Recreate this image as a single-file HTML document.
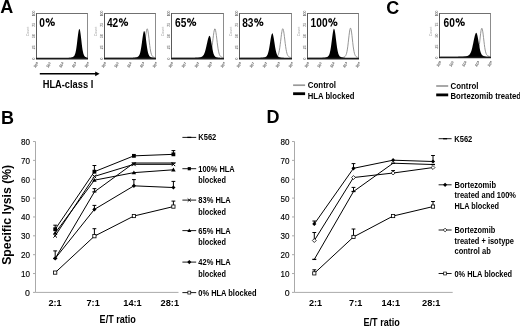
<!DOCTYPE html>
<html><head><meta charset="utf-8"><style>
html,body{margin:0;padding:0;background:#fff;}
svg{display:block;filter:grayscale(1);}
text{font-family:"Liberation Sans",sans-serif;}
</style></head><body>
<svg width="520" height="326" viewBox="0 0 520 326" font-family="Liberation Sans, sans-serif">
<rect width="520" height="326" fill="#fff"/>
<text x="0.3" y="12.9" font-size="18" font-weight="bold" text-anchor="start" fill="#000" >A</text>
<text x="0.9" y="123.6" font-size="18" font-weight="bold" text-anchor="start" fill="#000" >B</text>
<text x="386.3" y="13.5" font-size="18" font-weight="bold" text-anchor="start" fill="#000" >C</text>
<text x="266.5" y="122.9" font-size="18" font-weight="bold" text-anchor="start" fill="#000" >D</text>
<text transform="translate(34.5,13.5) rotate(-90)" font-size="3.4" fill="#777" stroke="#777" stroke-width="0.1" text-anchor="middle">100</text>
<text transform="translate(34.5,24.775) rotate(-90)" font-size="3.4" fill="#777" stroke="#777" stroke-width="0.1" text-anchor="middle">75</text>
<text transform="translate(34.5,36.05) rotate(-90)" font-size="3.4" fill="#777" stroke="#777" stroke-width="0.1" text-anchor="middle">50</text>
<text transform="translate(34.5,47.325) rotate(-90)" font-size="3.4" fill="#777" stroke="#777" stroke-width="0.1" text-anchor="middle">25</text>
<text transform="translate(34.5,58.6) rotate(-90)" font-size="3.4" fill="#777" stroke="#777" stroke-width="0.1" text-anchor="middle">0</text>
<text transform="translate(28.5,31.5) rotate(-90)" font-size="3.6" fill="#999" text-anchor="middle" textLength="9.6" lengthAdjust="spacingAndGlyphs">Count</text>
<text transform="translate(35.2,68.0) rotate(-50)" font-size="3.7" fill="#777" stroke="#777" stroke-width="0.2">10<tspan font-size="2.6" dy="-1.2">0</tspan></text>
<text transform="translate(47.95,68.0) rotate(-50)" font-size="3.7" fill="#777" stroke="#777" stroke-width="0.2">10<tspan font-size="2.6" dy="-1.2">1</tspan></text>
<text transform="translate(60.7,68.0) rotate(-50)" font-size="3.7" fill="#777" stroke="#777" stroke-width="0.2">10<tspan font-size="2.6" dy="-1.2">2</tspan></text>
<text transform="translate(73.45,68.0) rotate(-50)" font-size="3.7" fill="#777" stroke="#777" stroke-width="0.2">10<tspan font-size="2.6" dy="-1.2">3</tspan></text>
<text transform="translate(86.2,68.0) rotate(-50)" font-size="3.7" fill="#777" stroke="#777" stroke-width="0.2">10<tspan font-size="2.6" dy="-1.2">4</tspan></text>
<line x1="36.5" y1="13.5" x2="88.0" y2="13.5" stroke="#707070" stroke-width="1"/>
<line x1="36.5" y1="13.0" x2="36.5" y2="58.6" stroke="#5a5a5a" stroke-width="1"/>
<line x1="87.5" y1="13.5" x2="87.5" y2="58.6" stroke="#8c8c8c" stroke-width="1"/>
<path d="M37.30,58.00 L37.30,58.00 L37.71,58.00 L38.12,58.00 L38.53,58.00 L38.95,58.00 L39.36,58.00 L39.77,58.00 L40.18,58.00 L40.59,58.00 L41.00,58.00 L41.42,58.00 L41.83,58.00 L42.24,58.00 L42.65,58.00 L43.06,58.00 L43.47,58.00 L43.89,58.00 L44.30,58.00 L44.71,58.00 L45.12,58.00 L45.53,58.00 L45.95,58.00 L46.36,58.00 L46.77,58.00 L47.18,58.00 L47.59,58.00 L48.00,58.00 L48.41,58.00 L48.83,58.00 L49.24,58.00 L49.65,58.00 L50.06,58.00 L50.47,58.00 L50.88,58.00 L51.30,58.00 L51.71,58.00 L52.12,58.00 L52.53,58.00 L52.94,58.00 L53.35,58.00 L53.77,58.00 L54.18,58.00 L54.59,58.00 L55.00,58.00 L55.41,58.00 L55.83,58.00 L56.24,58.00 L56.65,58.00 L57.06,58.00 L57.47,58.00 L57.88,58.00 L58.30,58.00 L58.71,58.00 L59.12,58.00 L59.53,58.00 L59.94,58.00 L60.35,58.00 L60.77,58.00 L61.18,58.00 L61.59,58.00 L62.00,58.00 L62.41,58.00 L62.82,58.00 L63.23,58.00 L63.65,58.00 L64.06,58.00 L64.47,57.99 L64.88,57.99 L65.29,57.99 L65.70,57.98 L66.12,57.98 L66.53,57.97 L66.94,57.96 L67.35,57.94 L67.76,57.93 L68.17,57.91 L68.59,57.88 L69.00,57.85 L69.41,57.81 L69.82,57.76 L70.23,57.70 L70.65,57.64 L71.06,57.56 L71.47,57.47 L71.88,57.36 L72.29,57.23 L72.70,57.07 L73.12,56.86 L73.53,56.58 L73.94,56.19 L74.35,55.63 L74.76,54.83 L75.17,53.71 L75.59,52.18 L76.00,50.16 L76.41,47.65 L76.82,44.66 L77.23,41.33 L77.64,37.87 L78.06,34.58 L78.47,31.80 L78.88,29.84 L79.29,28.94 L79.70,29.25 L80.11,30.82 L80.53,33.43 L80.94,36.74 L81.35,40.36 L81.76,43.93 L82.17,47.17 L82.58,49.90 L83.00,52.07 L83.41,53.70 L83.82,54.87 L84.23,55.69 L84.64,56.26 L85.05,56.65 L85.47,56.92 L85.88,57.12 L86.29,57.28 L86.70,57.41 L86.70,58.00 Z" fill="#000"/>
<line x1="36.0" y1="58.6" x2="88.0" y2="58.6" stroke="#1a1a1a" stroke-width="1.6"/>
<text x="39.3" y="27.0" font-size="12.8" font-weight="bold" text-anchor="start" fill="#000" textLength="5.65" lengthAdjust="spacingAndGlyphs" >0</text>
<ellipse cx="47.55" cy="20.40" rx="1.35" ry="1.6" fill="none" stroke="#000" stroke-width="1.3"/>
<ellipse cx="52.85" cy="23.70" rx="1.45" ry="1.6" fill="none" stroke="#000" stroke-width="1.3"/>
<line x1="48.15" y1="26.50" x2="52.55" y2="17.70" stroke="#000" stroke-width="1.1"/>
<text transform="translate(102.5,13.5) rotate(-90)" font-size="3.4" fill="#777" stroke="#777" stroke-width="0.1" text-anchor="middle">100</text>
<text transform="translate(102.5,24.775) rotate(-90)" font-size="3.4" fill="#777" stroke="#777" stroke-width="0.1" text-anchor="middle">75</text>
<text transform="translate(102.5,36.05) rotate(-90)" font-size="3.4" fill="#777" stroke="#777" stroke-width="0.1" text-anchor="middle">50</text>
<text transform="translate(102.5,47.325) rotate(-90)" font-size="3.4" fill="#777" stroke="#777" stroke-width="0.1" text-anchor="middle">25</text>
<text transform="translate(102.5,58.6) rotate(-90)" font-size="3.4" fill="#777" stroke="#777" stroke-width="0.1" text-anchor="middle">0</text>
<text transform="translate(96.5,31.5) rotate(-90)" font-size="3.6" fill="#999" text-anchor="middle" textLength="9.6" lengthAdjust="spacingAndGlyphs">Count</text>
<text transform="translate(103.2,68.0) rotate(-50)" font-size="3.7" fill="#777" stroke="#777" stroke-width="0.2">10<tspan font-size="2.6" dy="-1.2">0</tspan></text>
<text transform="translate(115.95,68.0) rotate(-50)" font-size="3.7" fill="#777" stroke="#777" stroke-width="0.2">10<tspan font-size="2.6" dy="-1.2">1</tspan></text>
<text transform="translate(128.7,68.0) rotate(-50)" font-size="3.7" fill="#777" stroke="#777" stroke-width="0.2">10<tspan font-size="2.6" dy="-1.2">2</tspan></text>
<text transform="translate(141.45,68.0) rotate(-50)" font-size="3.7" fill="#777" stroke="#777" stroke-width="0.2">10<tspan font-size="2.6" dy="-1.2">3</tspan></text>
<text transform="translate(154.2,68.0) rotate(-50)" font-size="3.7" fill="#777" stroke="#777" stroke-width="0.2">10<tspan font-size="2.6" dy="-1.2">4</tspan></text>
<line x1="104.5" y1="13.5" x2="156.0" y2="13.5" stroke="#707070" stroke-width="1"/>
<line x1="104.5" y1="13.0" x2="104.5" y2="58.6" stroke="#5a5a5a" stroke-width="1"/>
<line x1="155.5" y1="13.5" x2="155.5" y2="58.6" stroke="#8c8c8c" stroke-width="1"/>
<path d="M105.30,58.00 L105.30,58.00 L105.71,58.00 L106.12,58.00 L106.53,58.00 L106.95,58.00 L107.36,58.00 L107.77,58.00 L108.18,58.00 L108.59,58.00 L109.00,58.00 L109.42,58.00 L109.83,58.00 L110.24,58.00 L110.65,58.00 L111.06,58.00 L111.47,58.00 L111.89,58.00 L112.30,58.00 L112.71,58.00 L113.12,58.00 L113.53,58.00 L113.94,58.00 L114.36,58.00 L114.77,58.00 L115.18,58.00 L115.59,58.00 L116.00,58.00 L116.41,58.00 L116.83,58.00 L117.24,58.00 L117.65,58.00 L118.06,58.00 L118.47,58.00 L118.88,58.00 L119.30,58.00 L119.71,58.00 L120.12,58.00 L120.53,58.00 L120.94,58.00 L121.35,58.00 L121.77,58.00 L122.18,58.00 L122.59,58.00 L123.00,58.00 L123.41,58.00 L123.82,58.00 L124.24,58.00 L124.65,58.00 L125.06,58.00 L125.47,58.00 L125.88,58.00 L126.29,58.00 L126.71,58.00 L127.12,58.00 L127.53,58.00 L127.94,58.00 L128.35,58.00 L128.76,58.00 L129.18,58.00 L129.59,58.00 L130.00,58.00 L130.41,58.00 L130.82,58.00 L131.23,58.00 L131.65,58.00 L132.06,57.99 L132.47,57.99 L132.88,57.99 L133.29,57.98 L133.70,57.98 L134.12,57.97 L134.53,57.96 L134.94,57.95 L135.35,57.94 L135.76,57.92 L136.17,57.89 L136.59,57.86 L137.00,57.83 L137.41,57.78 L137.82,57.73 L138.23,57.67 L138.64,57.60 L139.06,57.51 L139.47,57.41 L139.88,57.30 L140.29,57.15 L140.70,56.97 L141.11,56.73 L141.53,56.40 L141.94,55.93 L142.35,55.27 L142.76,54.32 L143.17,53.00 L143.58,51.24 L144.00,48.97 L144.41,46.21 L144.82,43.02 L145.23,39.58 L145.64,36.16 L146.06,33.06 L146.47,30.64 L146.88,29.16 L147.29,28.83 L147.70,29.77 L148.11,31.89 L148.52,34.90 L148.94,38.42 L149.35,42.07 L149.76,45.52 L150.17,48.53 L150.58,51.00 L150.99,52.90 L151.41,54.31 L151.82,55.30 L152.23,55.99 L152.64,56.46 L153.05,56.79 L153.46,57.02 L153.88,57.20 L154.29,57.34 L154.70,57.46" fill="none" stroke="#8a8a8a" stroke-width="0.9"/>
<path d="M105.30,58.00 L105.30,58.00 L105.71,58.00 L106.12,58.00 L106.53,58.00 L106.95,58.00 L107.36,58.00 L107.77,58.00 L108.18,58.00 L108.59,58.00 L109.00,58.00 L109.42,58.00 L109.83,58.00 L110.24,58.00 L110.65,58.00 L111.06,58.00 L111.47,58.00 L111.89,58.00 L112.30,58.00 L112.71,58.00 L113.12,58.00 L113.53,58.00 L113.94,58.00 L114.36,58.00 L114.77,58.00 L115.18,58.00 L115.59,58.00 L116.00,58.00 L116.41,58.00 L116.83,58.00 L117.24,58.00 L117.65,58.00 L118.06,58.00 L118.47,58.00 L118.88,58.00 L119.30,58.00 L119.71,58.00 L120.12,58.00 L120.53,58.00 L120.94,58.00 L121.35,58.00 L121.77,58.00 L122.18,58.00 L122.59,58.00 L123.00,58.00 L123.41,58.00 L123.82,58.00 L124.24,58.00 L124.65,58.00 L125.06,58.00 L125.47,58.00 L125.88,58.00 L126.29,58.00 L126.71,58.00 L127.12,58.00 L127.53,58.00 L127.94,58.00 L128.35,57.99 L128.76,57.99 L129.18,57.99 L129.59,57.99 L130.00,57.98 L130.41,57.97 L130.82,57.97 L131.23,57.96 L131.65,57.94 L132.06,57.93 L132.47,57.91 L132.88,57.88 L133.29,57.85 L133.70,57.82 L134.12,57.78 L134.53,57.73 L134.94,57.67 L135.35,57.60 L135.76,57.53 L136.17,57.43 L136.59,57.33 L137.00,57.19 L137.41,57.03 L137.82,56.81 L138.23,56.52 L138.64,56.12 L139.06,55.55 L139.47,54.75 L139.88,53.66 L140.29,52.20 L140.70,50.33 L141.11,48.03 L141.53,45.35 L141.94,42.40 L142.35,39.35 L142.76,36.44 L143.17,33.93 L143.58,32.09 L144.00,31.12 L144.41,31.14 L144.82,32.23 L145.23,34.25 L145.64,36.97 L146.06,40.08 L146.47,43.29 L146.88,46.32 L147.29,48.99 L147.70,51.22 L148.11,52.98 L148.52,54.30 L148.94,55.26 L149.35,55.94 L149.76,56.42 L150.17,56.75 L150.58,56.99 L150.99,57.17 L151.41,57.32 L151.82,57.43 L152.23,57.53 L152.64,57.61 L153.05,57.68 L153.46,57.74 L153.88,57.79 L154.29,57.83 L154.70,57.86 L154.70,58.00 Z" fill="#000"/>
<line x1="104.0" y1="58.6" x2="156.0" y2="58.6" stroke="#1a1a1a" stroke-width="1.6"/>
<text x="106.9" y="27.0" font-size="12.8" font-weight="bold" text-anchor="start" fill="#000" textLength="11.3" lengthAdjust="spacingAndGlyphs" >42</text>
<ellipse cx="120.80" cy="20.40" rx="1.35" ry="1.6" fill="none" stroke="#000" stroke-width="1.3"/>
<ellipse cx="126.10" cy="23.70" rx="1.45" ry="1.6" fill="none" stroke="#000" stroke-width="1.3"/>
<line x1="121.40" y1="26.50" x2="125.80" y2="17.70" stroke="#000" stroke-width="1.1"/>
<text transform="translate(169.5,13.5) rotate(-90)" font-size="3.4" fill="#777" stroke="#777" stroke-width="0.1" text-anchor="middle">100</text>
<text transform="translate(169.5,24.775) rotate(-90)" font-size="3.4" fill="#777" stroke="#777" stroke-width="0.1" text-anchor="middle">75</text>
<text transform="translate(169.5,36.05) rotate(-90)" font-size="3.4" fill="#777" stroke="#777" stroke-width="0.1" text-anchor="middle">50</text>
<text transform="translate(169.5,47.325) rotate(-90)" font-size="3.4" fill="#777" stroke="#777" stroke-width="0.1" text-anchor="middle">25</text>
<text transform="translate(169.5,58.6) rotate(-90)" font-size="3.4" fill="#777" stroke="#777" stroke-width="0.1" text-anchor="middle">0</text>
<text transform="translate(163.5,31.5) rotate(-90)" font-size="3.6" fill="#999" text-anchor="middle" textLength="9.6" lengthAdjust="spacingAndGlyphs">Count</text>
<text transform="translate(170.2,68.0) rotate(-50)" font-size="3.7" fill="#777" stroke="#777" stroke-width="0.2">10<tspan font-size="2.6" dy="-1.2">0</tspan></text>
<text transform="translate(183.2,68.0) rotate(-50)" font-size="3.7" fill="#777" stroke="#777" stroke-width="0.2">10<tspan font-size="2.6" dy="-1.2">1</tspan></text>
<text transform="translate(196.2,68.0) rotate(-50)" font-size="3.7" fill="#777" stroke="#777" stroke-width="0.2">10<tspan font-size="2.6" dy="-1.2">2</tspan></text>
<text transform="translate(209.2,68.0) rotate(-50)" font-size="3.7" fill="#777" stroke="#777" stroke-width="0.2">10<tspan font-size="2.6" dy="-1.2">3</tspan></text>
<text transform="translate(222.2,68.0) rotate(-50)" font-size="3.7" fill="#777" stroke="#777" stroke-width="0.2">10<tspan font-size="2.6" dy="-1.2">4</tspan></text>
<line x1="171.5" y1="13.5" x2="224.0" y2="13.5" stroke="#707070" stroke-width="1"/>
<line x1="171.5" y1="13.0" x2="171.5" y2="58.6" stroke="#5a5a5a" stroke-width="1"/>
<line x1="223.5" y1="13.5" x2="223.5" y2="58.6" stroke="#8c8c8c" stroke-width="1"/>
<path d="M172.30,58.00 L172.30,58.00 L172.72,58.00 L173.14,58.00 L173.56,58.00 L173.98,58.00 L174.40,58.00 L174.82,58.00 L175.24,58.00 L175.66,58.00 L176.08,58.00 L176.50,58.00 L176.92,58.00 L177.34,58.00 L177.76,58.00 L178.18,58.00 L178.60,58.00 L179.02,58.00 L179.44,58.00 L179.86,58.00 L180.28,58.00 L180.70,58.00 L181.12,58.00 L181.54,58.00 L181.96,58.00 L182.38,58.00 L182.80,58.00 L183.22,58.00 L183.64,58.00 L184.06,58.00 L184.48,58.00 L184.90,58.00 L185.32,58.00 L185.74,58.00 L186.16,58.00 L186.58,58.00 L187.00,58.00 L187.42,58.00 L187.84,58.00 L188.26,58.00 L188.68,58.00 L189.10,58.00 L189.52,58.00 L189.94,58.00 L190.36,58.00 L190.78,58.00 L191.20,58.00 L191.62,58.00 L192.04,58.00 L192.46,58.00 L192.88,58.00 L193.30,58.00 L193.72,58.00 L194.14,58.00 L194.56,58.00 L194.98,58.00 L195.40,58.00 L195.82,58.00 L196.24,58.00 L196.66,58.00 L197.08,58.00 L197.50,58.00 L197.92,58.00 L198.34,58.00 L198.76,58.00 L199.18,58.00 L199.60,57.99 L200.02,57.99 L200.44,57.99 L200.86,57.99 L201.28,57.98 L201.70,57.97 L202.12,57.97 L202.54,57.95 L202.96,57.94 L203.38,57.92 L203.80,57.90 L204.22,57.87 L204.64,57.83 L205.06,57.79 L205.48,57.74 L205.90,57.68 L206.32,57.60 L206.74,57.52 L207.16,57.42 L207.58,57.30 L208.00,57.15 L208.42,56.96 L208.84,56.71 L209.26,56.37 L209.68,55.88 L210.10,55.17 L210.52,54.16 L210.94,52.75 L211.36,50.86 L211.78,48.45 L212.20,45.53 L212.62,42.20 L213.04,38.67 L213.46,35.23 L213.88,32.24 L214.30,30.04 L214.72,28.91 L215.14,29.00 L215.56,30.30 L215.98,32.63 L216.40,35.70 L216.82,39.17 L217.24,42.69 L217.66,45.97 L218.08,48.83 L218.50,51.17 L218.92,52.98 L219.34,54.32 L219.76,55.29 L220.18,55.96 L220.60,56.43 L221.02,56.75 L221.44,56.99 L221.86,57.17 L222.28,57.31 L222.70,57.43" fill="none" stroke="#8a8a8a" stroke-width="0.9"/>
<path d="M172.30,58.00 L172.30,58.00 L172.72,58.00 L173.14,58.00 L173.56,58.00 L173.98,58.00 L174.40,58.00 L174.82,58.00 L175.24,58.00 L175.66,58.00 L176.08,58.00 L176.50,58.00 L176.92,58.00 L177.34,58.00 L177.76,58.00 L178.18,58.00 L178.60,58.00 L179.02,58.00 L179.44,58.00 L179.86,58.00 L180.28,58.00 L180.70,58.00 L181.12,58.00 L181.54,58.00 L181.96,58.00 L182.38,58.00 L182.80,58.00 L183.22,58.00 L183.64,58.00 L184.06,58.00 L184.48,58.00 L184.90,58.00 L185.32,58.00 L185.74,58.00 L186.16,58.00 L186.58,58.00 L187.00,58.00 L187.42,58.00 L187.84,58.00 L188.26,58.00 L188.68,58.00 L189.10,57.99 L189.52,57.99 L189.94,57.99 L190.36,57.99 L190.78,57.99 L191.20,57.98 L191.62,57.98 L192.04,57.97 L192.46,57.97 L192.88,57.96 L193.30,57.95 L193.72,57.94 L194.14,57.92 L194.56,57.91 L194.98,57.89 L195.40,57.87 L195.82,57.85 L196.24,57.82 L196.66,57.79 L197.08,57.76 L197.50,57.72 L197.92,57.68 L198.34,57.63 L198.76,57.57 L199.18,57.51 L199.60,57.44 L200.02,57.36 L200.44,57.26 L200.86,57.14 L201.28,56.99 L201.70,56.81 L202.12,56.56 L202.54,56.25 L202.96,55.84 L203.38,55.31 L203.80,54.63 L204.22,53.78 L204.64,52.74 L205.06,51.48 L205.48,50.02 L205.90,48.36 L206.32,46.54 L206.74,44.62 L207.16,42.68 L207.58,40.80 L208.00,39.10 L208.42,37.66 L208.84,36.59 L209.26,35.96 L209.68,35.82 L210.10,36.43 L210.52,37.85 L210.94,39.92 L211.36,42.39 L211.78,45.01 L212.20,47.55 L212.62,49.86 L213.04,51.81 L213.46,53.39 L213.88,54.59 L214.30,55.48 L214.72,56.12 L215.14,56.56 L215.56,56.88 L215.98,57.10 L216.40,57.27 L216.82,57.39 L217.24,57.49 L217.66,57.58 L218.08,57.65 L218.50,57.71 L218.92,57.76 L219.34,57.81 L219.76,57.85 L220.18,57.88 L220.60,57.90 L221.02,57.92 L221.44,57.94 L221.86,57.95 L222.28,57.97 L222.70,57.97 L222.70,58.00 Z" fill="#000"/>
<line x1="171.0" y1="58.6" x2="224.0" y2="58.6" stroke="#1a1a1a" stroke-width="1.6"/>
<text x="175.0" y="27.0" font-size="12.8" font-weight="bold" text-anchor="start" fill="#000" textLength="11.3" lengthAdjust="spacingAndGlyphs" >65</text>
<ellipse cx="188.90" cy="20.40" rx="1.35" ry="1.6" fill="none" stroke="#000" stroke-width="1.3"/>
<ellipse cx="194.20" cy="23.70" rx="1.45" ry="1.6" fill="none" stroke="#000" stroke-width="1.3"/>
<line x1="189.50" y1="26.50" x2="193.90" y2="17.70" stroke="#000" stroke-width="1.1"/>
<text transform="translate(237.5,13.5) rotate(-90)" font-size="3.4" fill="#777" stroke="#777" stroke-width="0.1" text-anchor="middle">100</text>
<text transform="translate(237.5,24.775) rotate(-90)" font-size="3.4" fill="#777" stroke="#777" stroke-width="0.1" text-anchor="middle">75</text>
<text transform="translate(237.5,36.05) rotate(-90)" font-size="3.4" fill="#777" stroke="#777" stroke-width="0.1" text-anchor="middle">50</text>
<text transform="translate(237.5,47.325) rotate(-90)" font-size="3.4" fill="#777" stroke="#777" stroke-width="0.1" text-anchor="middle">25</text>
<text transform="translate(237.5,58.6) rotate(-90)" font-size="3.4" fill="#777" stroke="#777" stroke-width="0.1" text-anchor="middle">0</text>
<text transform="translate(231.5,31.5) rotate(-90)" font-size="3.6" fill="#999" text-anchor="middle" textLength="9.6" lengthAdjust="spacingAndGlyphs">Count</text>
<text transform="translate(238.2,68.0) rotate(-50)" font-size="3.7" fill="#777" stroke="#777" stroke-width="0.2">10<tspan font-size="2.6" dy="-1.2">0</tspan></text>
<text transform="translate(251.2,68.0) rotate(-50)" font-size="3.7" fill="#777" stroke="#777" stroke-width="0.2">10<tspan font-size="2.6" dy="-1.2">1</tspan></text>
<text transform="translate(264.2,68.0) rotate(-50)" font-size="3.7" fill="#777" stroke="#777" stroke-width="0.2">10<tspan font-size="2.6" dy="-1.2">2</tspan></text>
<text transform="translate(277.2,68.0) rotate(-50)" font-size="3.7" fill="#777" stroke="#777" stroke-width="0.2">10<tspan font-size="2.6" dy="-1.2">3</tspan></text>
<text transform="translate(290.2,68.0) rotate(-50)" font-size="3.7" fill="#777" stroke="#777" stroke-width="0.2">10<tspan font-size="2.6" dy="-1.2">4</tspan></text>
<line x1="239.5" y1="13.5" x2="292.0" y2="13.5" stroke="#707070" stroke-width="1"/>
<line x1="239.5" y1="13.0" x2="239.5" y2="58.6" stroke="#5a5a5a" stroke-width="1"/>
<line x1="291.5" y1="13.5" x2="291.5" y2="58.6" stroke="#8c8c8c" stroke-width="1"/>
<path d="M240.30,58.00 L240.30,58.00 L240.72,58.00 L241.14,58.00 L241.56,58.00 L241.98,58.00 L242.40,58.00 L242.82,58.00 L243.24,58.00 L243.66,58.00 L244.08,58.00 L244.50,58.00 L244.92,58.00 L245.34,58.00 L245.76,58.00 L246.18,58.00 L246.60,58.00 L247.02,58.00 L247.44,58.00 L247.86,58.00 L248.28,58.00 L248.70,58.00 L249.12,58.00 L249.54,58.00 L249.96,58.00 L250.38,58.00 L250.80,58.00 L251.22,58.00 L251.64,58.00 L252.06,58.00 L252.48,58.00 L252.90,58.00 L253.32,58.00 L253.74,58.00 L254.16,58.00 L254.58,58.00 L255.00,58.00 L255.42,58.00 L255.84,58.00 L256.26,58.00 L256.68,58.00 L257.10,58.00 L257.52,58.00 L257.94,58.00 L258.36,58.00 L258.78,58.00 L259.20,58.00 L259.62,58.00 L260.04,58.00 L260.46,58.00 L260.88,58.00 L261.30,58.00 L261.72,58.00 L262.14,58.00 L262.56,58.00 L262.98,58.00 L263.40,58.00 L263.82,58.00 L264.24,58.00 L264.66,58.00 L265.08,58.00 L265.50,58.00 L265.92,58.00 L266.34,58.00 L266.76,58.00 L267.18,58.00 L267.60,57.99 L268.02,57.99 L268.44,57.99 L268.86,57.99 L269.28,57.98 L269.70,57.97 L270.12,57.96 L270.54,57.95 L270.96,57.94 L271.38,57.92 L271.80,57.89 L272.22,57.86 L272.64,57.82 L273.06,57.78 L273.48,57.72 L273.90,57.66 L274.32,57.58 L274.74,57.49 L275.16,57.39 L275.58,57.26 L276.00,57.11 L276.42,56.91 L276.84,56.64 L277.26,56.26 L277.68,55.72 L278.10,54.95 L278.52,53.85 L278.94,52.33 L279.36,50.31 L279.78,47.76 L280.20,44.72 L280.62,41.31 L281.04,37.76 L281.46,34.39 L281.88,31.54 L282.30,29.57 L282.72,28.72 L283.14,29.11 L283.56,30.67 L283.98,33.22 L284.40,36.43 L284.82,39.96 L285.24,43.45 L285.66,46.66 L286.08,49.40 L286.50,51.62 L286.92,53.32 L287.34,54.57 L287.76,55.46 L288.18,56.08 L288.60,56.51 L289.02,56.81 L289.44,57.04 L289.86,57.21 L290.28,57.34 L290.70,57.46" fill="none" stroke="#8a8a8a" stroke-width="0.9"/>
<path d="M240.30,58.00 L240.30,58.00 L240.72,58.00 L241.14,58.00 L241.56,58.00 L241.98,58.00 L242.40,58.00 L242.82,58.00 L243.24,58.00 L243.66,58.00 L244.08,58.00 L244.50,58.00 L244.92,58.00 L245.34,58.00 L245.76,58.00 L246.18,58.00 L246.60,58.00 L247.02,58.00 L247.44,58.00 L247.86,58.00 L248.28,58.00 L248.70,58.00 L249.12,58.00 L249.54,58.00 L249.96,58.00 L250.38,58.00 L250.80,58.00 L251.22,58.00 L251.64,58.00 L252.06,58.00 L252.48,58.00 L252.90,58.00 L253.32,58.00 L253.74,58.00 L254.16,58.00 L254.58,58.00 L255.00,58.00 L255.42,58.00 L255.84,57.99 L256.26,57.99 L256.68,57.99 L257.10,57.99 L257.52,57.98 L257.94,57.98 L258.36,57.97 L258.78,57.96 L259.20,57.95 L259.62,57.93 L260.04,57.91 L260.46,57.89 L260.88,57.87 L261.30,57.83 L261.72,57.80 L262.14,57.75 L262.56,57.70 L262.98,57.64 L263.40,57.58 L263.82,57.50 L264.24,57.40 L264.66,57.29 L265.08,57.15 L265.50,56.97 L265.92,56.73 L266.34,56.41 L266.76,55.95 L267.18,55.32 L267.60,54.45 L268.02,53.29 L268.44,51.79 L268.86,49.92 L269.28,47.70 L269.70,45.18 L270.12,42.48 L270.54,39.79 L270.96,37.32 L271.38,35.29 L271.80,33.91 L272.22,33.32 L272.64,33.60 L273.06,34.74 L273.48,36.63 L273.90,39.04 L274.32,41.76 L274.74,44.53 L275.16,47.17 L275.58,49.52 L276.00,51.50 L276.42,53.10 L276.84,54.33 L277.26,55.25 L277.68,55.91 L278.10,56.39 L278.52,56.73 L278.94,56.97 L279.36,57.15 L279.78,57.29 L280.20,57.41 L280.62,57.50 L281.04,57.58 L281.46,57.65 L281.88,57.71 L282.30,57.76 L282.72,57.81 L283.14,57.84 L283.56,57.87 L283.98,57.90 L284.40,57.92 L284.82,57.94 L285.24,57.95 L285.66,57.96 L286.08,57.97 L286.50,57.98 L286.92,57.98 L287.34,57.99 L287.76,57.99 L288.18,57.99 L288.60,58.00 L289.02,58.00 L289.44,58.00 L289.86,58.00 L290.28,58.00 L290.70,58.00 L290.70,58.00 Z" fill="#000"/>
<line x1="239.0" y1="58.6" x2="292.0" y2="58.6" stroke="#1a1a1a" stroke-width="1.6"/>
<text x="242.2" y="27.0" font-size="12.8" font-weight="bold" text-anchor="start" fill="#000" textLength="11.3" lengthAdjust="spacingAndGlyphs" >83</text>
<ellipse cx="256.10" cy="20.40" rx="1.35" ry="1.6" fill="none" stroke="#000" stroke-width="1.3"/>
<ellipse cx="261.40" cy="23.70" rx="1.45" ry="1.6" fill="none" stroke="#000" stroke-width="1.3"/>
<line x1="256.70" y1="26.50" x2="261.10" y2="17.70" stroke="#000" stroke-width="1.1"/>
<text transform="translate(305.5,13.5) rotate(-90)" font-size="3.4" fill="#777" stroke="#777" stroke-width="0.1" text-anchor="middle">100</text>
<text transform="translate(305.5,24.775) rotate(-90)" font-size="3.4" fill="#777" stroke="#777" stroke-width="0.1" text-anchor="middle">75</text>
<text transform="translate(305.5,36.05) rotate(-90)" font-size="3.4" fill="#777" stroke="#777" stroke-width="0.1" text-anchor="middle">50</text>
<text transform="translate(305.5,47.325) rotate(-90)" font-size="3.4" fill="#777" stroke="#777" stroke-width="0.1" text-anchor="middle">25</text>
<text transform="translate(305.5,58.6) rotate(-90)" font-size="3.4" fill="#777" stroke="#777" stroke-width="0.1" text-anchor="middle">0</text>
<text transform="translate(299.5,31.5) rotate(-90)" font-size="3.6" fill="#999" text-anchor="middle" textLength="9.6" lengthAdjust="spacingAndGlyphs">Count</text>
<text transform="translate(306.2,68.0) rotate(-50)" font-size="3.7" fill="#777" stroke="#777" stroke-width="0.2">10<tspan font-size="2.6" dy="-1.2">0</tspan></text>
<text transform="translate(318.95,68.0) rotate(-50)" font-size="3.7" fill="#777" stroke="#777" stroke-width="0.2">10<tspan font-size="2.6" dy="-1.2">1</tspan></text>
<text transform="translate(331.7,68.0) rotate(-50)" font-size="3.7" fill="#777" stroke="#777" stroke-width="0.2">10<tspan font-size="2.6" dy="-1.2">2</tspan></text>
<text transform="translate(344.45,68.0) rotate(-50)" font-size="3.7" fill="#777" stroke="#777" stroke-width="0.2">10<tspan font-size="2.6" dy="-1.2">3</tspan></text>
<text transform="translate(357.2,68.0) rotate(-50)" font-size="3.7" fill="#777" stroke="#777" stroke-width="0.2">10<tspan font-size="2.6" dy="-1.2">4</tspan></text>
<line x1="307.5" y1="13.5" x2="359.0" y2="13.5" stroke="#707070" stroke-width="1"/>
<line x1="307.5" y1="13.0" x2="307.5" y2="58.6" stroke="#5a5a5a" stroke-width="1"/>
<line x1="358.5" y1="13.5" x2="358.5" y2="58.6" stroke="#8c8c8c" stroke-width="1"/>
<path d="M308.30,58.00 L308.30,58.00 L308.71,58.00 L309.12,58.00 L309.54,58.00 L309.95,58.00 L310.36,58.00 L310.77,58.00 L311.18,58.00 L311.59,58.00 L312.00,58.00 L312.42,58.00 L312.83,58.00 L313.24,58.00 L313.65,58.00 L314.06,58.00 L314.48,58.00 L314.89,58.00 L315.30,58.00 L315.71,58.00 L316.12,58.00 L316.53,58.00 L316.94,58.00 L317.36,58.00 L317.77,58.00 L318.18,58.00 L318.59,58.00 L319.00,58.00 L319.42,58.00 L319.83,58.00 L320.24,58.00 L320.65,58.00 L321.06,58.00 L321.47,58.00 L321.88,58.00 L322.30,58.00 L322.71,58.00 L323.12,58.00 L323.53,58.00 L323.94,58.00 L324.36,58.00 L324.77,58.00 L325.18,58.00 L325.59,58.00 L326.00,58.00 L326.41,58.00 L326.82,58.00 L327.24,58.00 L327.65,58.00 L328.06,58.00 L328.47,58.00 L328.88,58.00 L329.30,58.00 L329.71,58.00 L330.12,58.00 L330.53,58.00 L330.94,58.00 L331.35,58.00 L331.76,58.00 L332.18,58.00 L332.59,58.00 L333.00,58.00 L333.41,58.00 L333.82,58.00 L334.24,58.00 L334.65,58.00 L335.06,58.00 L335.47,58.00 L335.88,58.00 L336.29,57.99 L336.70,57.99 L337.12,57.99 L337.53,57.98 L337.94,57.97 L338.35,57.97 L338.76,57.95 L339.18,57.94 L339.59,57.92 L340.00,57.89 L340.41,57.86 L340.82,57.82 L341.23,57.78 L341.64,57.72 L342.06,57.65 L342.47,57.57 L342.88,57.48 L343.29,57.36 L343.70,57.23 L344.12,57.06 L344.53,56.83 L344.94,56.53 L345.35,56.10 L345.76,55.47 L346.17,54.55 L346.58,53.25 L347.00,51.46 L347.41,49.10 L347.82,46.17 L348.23,42.75 L348.64,39.04 L349.06,35.36 L349.47,32.08 L349.88,29.61 L350.29,28.28 L350.70,28.26 L351.11,29.57 L351.52,32.02 L351.94,35.29 L352.35,38.97 L352.76,42.68 L353.17,46.10 L353.58,49.05 L354.00,51.41 L354.41,53.22 L354.82,54.53 L355.23,55.45 L355.64,56.09 L356.05,56.52 L356.46,56.83 L356.88,57.05 L357.29,57.22 L357.70,57.36" fill="none" stroke="#8a8a8a" stroke-width="0.9"/>
<path d="M308.30,58.00 L308.30,58.00 L308.71,58.00 L309.12,58.00 L309.54,58.00 L309.95,58.00 L310.36,58.00 L310.77,58.00 L311.18,58.00 L311.59,58.00 L312.00,58.00 L312.42,58.00 L312.83,58.00 L313.24,58.00 L313.65,58.00 L314.06,58.00 L314.48,58.00 L314.89,58.00 L315.30,58.00 L315.71,58.00 L316.12,58.00 L316.53,58.00 L316.94,58.00 L317.36,58.00 L317.77,58.00 L318.18,57.99 L318.59,57.99 L319.00,57.99 L319.42,57.98 L319.83,57.98 L320.24,57.97 L320.65,57.96 L321.06,57.95 L321.47,57.94 L321.88,57.92 L322.30,57.90 L322.71,57.87 L323.12,57.84 L323.53,57.80 L323.94,57.76 L324.36,57.70 L324.77,57.64 L325.18,57.56 L325.59,57.48 L326.00,57.38 L326.41,57.26 L326.82,57.12 L327.24,56.93 L327.65,56.70 L328.06,56.37 L328.47,55.92 L328.88,55.29 L329.30,54.41 L329.71,53.20 L330.12,51.59 L330.53,49.53 L330.94,47.01 L331.35,44.07 L331.76,40.85 L332.18,37.54 L332.59,34.41 L333.00,31.73 L333.41,29.79 L333.82,28.80 L334.24,28.89 L334.65,30.07 L335.06,32.23 L335.47,35.10 L335.88,38.39 L336.29,41.78 L336.70,45.01 L337.12,47.89 L337.53,50.31 L337.94,52.25 L338.35,53.73 L338.76,54.82 L339.18,55.61 L339.59,56.16 L340.00,56.55 L340.41,56.83 L340.82,57.04 L341.23,57.20 L341.64,57.33 L342.06,57.44 L342.47,57.54 L342.88,57.62 L343.29,57.68 L343.70,57.74 L344.12,57.79 L344.53,57.83 L344.94,57.87 L345.35,57.89 L345.76,57.92 L346.17,57.94 L346.58,57.95 L347.00,57.96 L347.41,57.97 L347.82,57.98 L348.23,57.98 L348.64,57.99 L349.06,57.99 L349.47,57.99 L349.88,58.00 L350.29,58.00 L350.70,58.00 L351.11,58.00 L351.52,58.00 L351.94,58.00 L352.35,58.00 L352.76,58.00 L353.17,58.00 L353.58,58.00 L354.00,58.00 L354.41,58.00 L354.82,58.00 L355.23,58.00 L355.64,58.00 L356.05,58.00 L356.46,58.00 L356.88,58.00 L357.29,58.00 L357.70,58.00 L357.70,58.00 Z" fill="#000"/>
<line x1="307.0" y1="58.6" x2="359.0" y2="58.6" stroke="#1a1a1a" stroke-width="1.6"/>
<text x="310.6" y="27.0" font-size="12.8" font-weight="bold" text-anchor="start" fill="#000" textLength="16.950000000000003" lengthAdjust="spacingAndGlyphs" >100</text>
<ellipse cx="330.15" cy="20.40" rx="1.35" ry="1.6" fill="none" stroke="#000" stroke-width="1.3"/>
<ellipse cx="335.45" cy="23.70" rx="1.45" ry="1.6" fill="none" stroke="#000" stroke-width="1.3"/>
<line x1="330.75" y1="26.50" x2="335.15" y2="17.70" stroke="#000" stroke-width="1.1"/>
<text transform="translate(437.5,13.5) rotate(-90)" font-size="3.4" fill="#777" stroke="#777" stroke-width="0.1" text-anchor="middle">100</text>
<text transform="translate(437.5,24.5) rotate(-90)" font-size="3.4" fill="#777" stroke="#777" stroke-width="0.1" text-anchor="middle">75</text>
<text transform="translate(437.5,35.5) rotate(-90)" font-size="3.4" fill="#777" stroke="#777" stroke-width="0.1" text-anchor="middle">50</text>
<text transform="translate(437.5,46.5) rotate(-90)" font-size="3.4" fill="#777" stroke="#777" stroke-width="0.1" text-anchor="middle">25</text>
<text transform="translate(437.5,57.5) rotate(-90)" font-size="3.4" fill="#777" stroke="#777" stroke-width="0.1" text-anchor="middle">0</text>
<text transform="translate(431.5,31.5) rotate(-90)" font-size="3.6" fill="#999" text-anchor="middle" textLength="9.6" lengthAdjust="spacingAndGlyphs">Count</text>
<text transform="translate(438.2,66.9) rotate(-50)" font-size="3.7" fill="#777" stroke="#777" stroke-width="0.2">10<tspan font-size="2.6" dy="-1.2">0</tspan></text>
<text transform="translate(450.95,66.9) rotate(-50)" font-size="3.7" fill="#777" stroke="#777" stroke-width="0.2">10<tspan font-size="2.6" dy="-1.2">1</tspan></text>
<text transform="translate(463.7,66.9) rotate(-50)" font-size="3.7" fill="#777" stroke="#777" stroke-width="0.2">10<tspan font-size="2.6" dy="-1.2">2</tspan></text>
<text transform="translate(476.45,66.9) rotate(-50)" font-size="3.7" fill="#777" stroke="#777" stroke-width="0.2">10<tspan font-size="2.6" dy="-1.2">3</tspan></text>
<text transform="translate(489.2,66.9) rotate(-50)" font-size="3.7" fill="#777" stroke="#777" stroke-width="0.2">10<tspan font-size="2.6" dy="-1.2">4</tspan></text>
<line x1="439.5" y1="13.5" x2="491.0" y2="13.5" stroke="#707070" stroke-width="1"/>
<line x1="439.5" y1="13.0" x2="439.5" y2="57.5" stroke="#5a5a5a" stroke-width="1"/>
<line x1="490.5" y1="13.5" x2="490.5" y2="57.5" stroke="#8c8c8c" stroke-width="1"/>
<path d="M440.30,56.90 L440.30,56.90 L440.71,56.90 L441.12,56.90 L441.54,56.90 L441.95,56.90 L442.36,56.90 L442.77,56.90 L443.18,56.90 L443.59,56.90 L444.00,56.90 L444.42,56.90 L444.83,56.90 L445.24,56.90 L445.65,56.90 L446.06,56.90 L446.48,56.90 L446.89,56.90 L447.30,56.90 L447.71,56.90 L448.12,56.90 L448.53,56.90 L448.94,56.90 L449.36,56.90 L449.77,56.90 L450.18,56.90 L450.59,56.90 L451.00,56.90 L451.42,56.90 L451.83,56.90 L452.24,56.90 L452.65,56.90 L453.06,56.90 L453.47,56.90 L453.88,56.90 L454.30,56.90 L454.71,56.90 L455.12,56.90 L455.53,56.90 L455.94,56.90 L456.36,56.90 L456.77,56.90 L457.18,56.90 L457.59,56.90 L458.00,56.90 L458.41,56.90 L458.82,56.90 L459.24,56.90 L459.65,56.90 L460.06,56.90 L460.47,56.90 L460.88,56.90 L461.30,56.90 L461.71,56.90 L462.12,56.90 L462.53,56.90 L462.94,56.90 L463.35,56.90 L463.76,56.90 L464.18,56.90 L464.59,56.90 L465.00,56.90 L465.41,56.90 L465.82,56.90 L466.24,56.90 L466.65,56.90 L467.06,56.90 L467.47,56.90 L467.88,56.90 L468.29,56.89 L468.70,56.89 L469.12,56.89 L469.53,56.88 L469.94,56.88 L470.35,56.87 L470.76,56.85 L471.18,56.84 L471.59,56.81 L472.00,56.79 L472.41,56.75 L472.82,56.71 L473.23,56.66 L473.64,56.59 L474.06,56.52 L474.47,56.43 L474.88,56.32 L475.29,56.19 L475.70,56.02 L476.12,55.80 L476.53,55.50 L476.94,55.06 L477.35,54.41 L477.76,53.44 L478.17,52.04 L478.58,50.10 L479.00,47.54 L479.41,44.38 L479.82,40.77 L480.23,36.97 L480.64,33.39 L481.06,30.49 L481.47,28.68 L481.88,28.22 L482.29,29.11 L482.70,31.16 L483.11,34.10 L483.52,37.55 L483.94,41.14 L484.35,44.54 L484.76,47.52 L485.17,49.96 L485.58,51.85 L486.00,53.24 L486.41,54.22 L486.82,54.91 L487.23,55.37 L487.64,55.70 L488.05,55.93 L488.46,56.11 L488.88,56.25 L489.29,56.36 L489.70,56.46" fill="none" stroke="#8a8a8a" stroke-width="0.9"/>
<path d="M440.30,56.90 L440.30,56.90 L440.71,56.90 L441.12,56.90 L441.54,56.90 L441.95,56.90 L442.36,56.90 L442.77,56.90 L443.18,56.90 L443.59,56.90 L444.00,56.90 L444.42,56.90 L444.83,56.90 L445.24,56.90 L445.65,56.90 L446.06,56.90 L446.48,56.90 L446.89,56.90 L447.30,56.90 L447.71,56.90 L448.12,56.90 L448.53,56.90 L448.94,56.90 L449.36,56.90 L449.77,56.90 L450.18,56.90 L450.59,56.90 L451.00,56.90 L451.42,56.90 L451.83,56.90 L452.24,56.90 L452.65,56.90 L453.06,56.90 L453.47,56.90 L453.88,56.90 L454.30,56.90 L454.71,56.90 L455.12,56.89 L455.53,56.89 L455.94,56.89 L456.36,56.89 L456.77,56.89 L457.18,56.88 L457.59,56.88 L458.00,56.88 L458.41,56.87 L458.82,56.86 L459.24,56.85 L459.65,56.85 L460.06,56.83 L460.47,56.82 L460.88,56.81 L461.30,56.79 L461.71,56.77 L462.12,56.75 L462.53,56.72 L462.94,56.69 L463.35,56.66 L463.76,56.62 L464.18,56.58 L464.59,56.53 L465.00,56.47 L465.41,56.41 L465.82,56.35 L466.24,56.27 L466.65,56.18 L467.06,56.07 L467.47,55.94 L467.88,55.78 L468.29,55.58 L468.70,55.33 L469.12,54.99 L469.53,54.57 L469.94,54.02 L470.35,53.32 L470.76,52.46 L471.18,51.40 L471.59,50.13 L472.00,48.65 L472.41,46.96 L472.82,45.11 L473.23,43.13 L473.64,41.10 L474.06,39.10 L474.47,37.22 L474.88,35.57 L475.29,34.24 L475.70,33.32 L476.12,32.85 L476.53,32.92 L476.94,33.71 L477.35,35.19 L477.76,37.20 L478.17,39.57 L478.58,42.10 L479.00,44.60 L479.41,46.94 L479.82,49.02 L480.23,50.77 L480.64,52.20 L481.06,53.31 L481.47,54.16 L481.88,54.79 L482.29,55.25 L482.70,55.58 L483.11,55.83 L483.52,56.01 L483.94,56.15 L484.35,56.27 L484.76,56.36 L485.17,56.44 L485.58,56.51 L486.00,56.57 L486.41,56.63 L486.82,56.67 L487.23,56.71 L487.64,56.75 L488.05,56.77 L488.46,56.80 L488.88,56.82 L489.29,56.83 L489.70,56.85 L489.70,56.90 Z" fill="#000"/>
<line x1="439.0" y1="57.5" x2="491.0" y2="57.5" stroke="#1a1a1a" stroke-width="1.6"/>
<text x="443.6" y="27.0" font-size="12.8" font-weight="bold" text-anchor="start" fill="#000" textLength="11.3" lengthAdjust="spacingAndGlyphs" >60</text>
<ellipse cx="457.50" cy="20.40" rx="1.35" ry="1.6" fill="none" stroke="#000" stroke-width="1.3"/>
<ellipse cx="462.80" cy="23.70" rx="1.45" ry="1.6" fill="none" stroke="#000" stroke-width="1.3"/>
<line x1="458.10" y1="26.50" x2="462.50" y2="17.70" stroke="#000" stroke-width="1.1"/>
<line x1="39.8" y1="73.8" x2="96" y2="73.8" stroke="#000" stroke-width="1.5"/>
<path d="M95.2,71.4 L99.6,73.8 L95.2,76.2 Z" fill="#000"/>
<text x="42.7" y="87.6" font-size="10.3" font-weight="bold" text-anchor="start" fill="#000" textLength="50.6" lengthAdjust="spacingAndGlyphs" >HLA-class I</text>
<g>
<line x1="293.1" y1="85.2" x2="305.1" y2="85.2" stroke="#999" stroke-width="1.7"/>
<text x="307.8" y="87.9" font-size="8.9" font-weight="bold" text-anchor="start" fill="#000" textLength="28.2" lengthAdjust="spacingAndGlyphs" >Control</text>
<line x1="293.1" y1="93.7" x2="305.1" y2="93.7" stroke="#000" stroke-width="2.8"/>
<text x="307.8" y="98.5" font-size="8.9" font-weight="bold" text-anchor="start" fill="#000" textLength="46.6" lengthAdjust="spacingAndGlyphs" >HLA blocked</text>
<line x1="436.2" y1="86" x2="448.2" y2="86" stroke="#999" stroke-width="1.7"/>
<text x="450.5" y="89.0" font-size="8.9" font-weight="bold" text-anchor="start" fill="#000" textLength="28" lengthAdjust="spacingAndGlyphs" >Control</text>
<line x1="436.2" y1="94.9" x2="448.2" y2="94.9" stroke="#000" stroke-width="2.8"/>
<text x="450.5" y="99.4" font-size="8.9" font-weight="bold" text-anchor="start" fill="#000" textLength="70.5" lengthAdjust="spacingAndGlyphs" >Bortezomib treated</text>
</g>
<line x1="35.5" y1="141.51999999999998" x2="35.5" y2="292.4" stroke="#aaa" stroke-width="1"/>
<line x1="35.5" y1="292.4" x2="178.5" y2="292.4" stroke="#aaa" stroke-width="1"/>
<line x1="33.0" y1="292.4" x2="35.5" y2="292.4" stroke="#aaa" stroke-width="1"/>
<text x="30.0" y="295.84999999999997" font-size="9.6" text-anchor="end" fill="#000" textLength="4.9" lengthAdjust="spacingAndGlyphs" stroke="#000" stroke-width="0.15">0</text>
<line x1="33.0" y1="273.53999999999996" x2="35.5" y2="273.53999999999996" stroke="#aaa" stroke-width="1"/>
<text x="30.0" y="276.98999999999995" font-size="9.6" text-anchor="end" fill="#000" textLength="9.0" lengthAdjust="spacingAndGlyphs" stroke="#000" stroke-width="0.15">10</text>
<line x1="33.0" y1="254.67999999999998" x2="35.5" y2="254.67999999999998" stroke="#aaa" stroke-width="1"/>
<text x="30.0" y="258.13" font-size="9.6" text-anchor="end" fill="#000" textLength="9.0" lengthAdjust="spacingAndGlyphs" stroke="#000" stroke-width="0.15">20</text>
<line x1="33.0" y1="235.82" x2="35.5" y2="235.82" stroke="#aaa" stroke-width="1"/>
<text x="30.0" y="239.26999999999998" font-size="9.6" text-anchor="end" fill="#000" textLength="9.0" lengthAdjust="spacingAndGlyphs" stroke="#000" stroke-width="0.15">30</text>
<line x1="33.0" y1="216.95999999999998" x2="35.5" y2="216.95999999999998" stroke="#aaa" stroke-width="1"/>
<text x="30.0" y="220.40999999999997" font-size="9.6" text-anchor="end" fill="#000" textLength="9.0" lengthAdjust="spacingAndGlyphs" stroke="#000" stroke-width="0.15">40</text>
<line x1="33.0" y1="198.09999999999997" x2="35.5" y2="198.09999999999997" stroke="#aaa" stroke-width="1"/>
<text x="30.0" y="201.54999999999995" font-size="9.6" text-anchor="end" fill="#000" textLength="9.0" lengthAdjust="spacingAndGlyphs" stroke="#000" stroke-width="0.15">50</text>
<line x1="33.0" y1="179.23999999999998" x2="35.5" y2="179.23999999999998" stroke="#aaa" stroke-width="1"/>
<text x="30.0" y="182.68999999999997" font-size="9.6" text-anchor="end" fill="#000" textLength="9.0" lengthAdjust="spacingAndGlyphs" stroke="#000" stroke-width="0.15">60</text>
<line x1="33.0" y1="160.38" x2="35.5" y2="160.38" stroke="#aaa" stroke-width="1"/>
<text x="30.0" y="163.82999999999998" font-size="9.6" text-anchor="end" fill="#000" textLength="9.0" lengthAdjust="spacingAndGlyphs" stroke="#000" stroke-width="0.15">70</text>
<line x1="33.0" y1="141.51999999999998" x2="35.5" y2="141.51999999999998" stroke="#aaa" stroke-width="1"/>
<text x="30.0" y="144.96999999999997" font-size="9.6" text-anchor="end" fill="#000" textLength="9.0" lengthAdjust="spacingAndGlyphs" stroke="#000" stroke-width="0.15">80</text>
<text x="55.05" y="306.4" font-size="9.8" font-weight="bold" text-anchor="middle" fill="#000" textLength="13.2" lengthAdjust="spacingAndGlyphs" >2:1</text>
<text x="93.15" y="306.4" font-size="9.8" font-weight="bold" text-anchor="middle" fill="#000" textLength="13.2" lengthAdjust="spacingAndGlyphs" >7:1</text>
<text x="132.5" y="306.4" font-size="9.8" font-weight="bold" text-anchor="middle" fill="#000" textLength="18.5" lengthAdjust="spacingAndGlyphs" >14:1</text>
<text x="169.85" y="306.4" font-size="9.8" font-weight="bold" text-anchor="middle" fill="#000" textLength="18.5" lengthAdjust="spacingAndGlyphs" >28:1</text>
<text x="99.6" y="323.0" font-size="10" font-weight="bold" text-anchor="start" fill="#000" textLength="36.3" lengthAdjust="spacingAndGlyphs" >E/T ratio</text>
<path d="M55.20,258.45 L94.40,191.88 L133.90,163.02 L173.40,163.02" fill="none" stroke="#000" stroke-width="1"/>
<path d="M55.20,229.22 L94.40,171.70 L133.90,155.85 L173.40,154.34" fill="none" stroke="#000" stroke-width="1"/>
<path d="M55.20,235.82 L94.40,176.41 L133.90,164.34 L173.40,164.34" fill="none" stroke="#000" stroke-width="1"/>
<path d="M55.20,232.99 L94.40,180.18 L133.90,172.64 L173.40,169.81" fill="none" stroke="#000" stroke-width="1"/>
<path d="M55.20,258.45 L94.40,209.42 L133.90,185.84 L173.40,187.54" fill="none" stroke="#000" stroke-width="1"/>
<path d="M55.20,272.60 L94.40,236.20 L133.90,216.02 L173.40,206.59" fill="none" stroke="#000" stroke-width="1"/>
<line x1="55.2" y1="258.452" x2="55.2" y2="250.9" stroke="#000" stroke-width="1"/><line x1="53.300000000000004" y1="250.9" x2="57.1" y2="250.9" stroke="#000" stroke-width="1"/>
<line x1="94.4" y1="191.87619999999998" x2="94.4" y2="188.6" stroke="#000" stroke-width="1"/><line x1="92.5" y1="188.6" x2="96.30000000000001" y2="188.6" stroke="#000" stroke-width="1"/>
<g transform="translate(55.20,258.45) scale(0.8)"><rect x="-2.5" y="-0.8" width="5" height="1.6" fill="#000"/></g>
<g transform="translate(94.40,191.88) scale(0.8)"><rect x="-2.5" y="-0.8" width="5" height="1.6" fill="#000"/></g>
<g transform="translate(133.90,163.02) scale(0.8)"><rect x="-2.5" y="-0.8" width="5" height="1.6" fill="#000"/></g>
<g transform="translate(173.40,163.02) scale(0.8)"><rect x="-2.5" y="-0.8" width="5" height="1.6" fill="#000"/></g>
<line x1="55.2" y1="229.219" x2="55.2" y2="225.2" stroke="#000" stroke-width="1"/><line x1="53.300000000000004" y1="225.2" x2="57.1" y2="225.2" stroke="#000" stroke-width="1"/>
<line x1="94.4" y1="171.69599999999997" x2="94.4" y2="165.5" stroke="#000" stroke-width="1"/><line x1="92.5" y1="165.5" x2="96.30000000000001" y2="165.5" stroke="#000" stroke-width="1"/>
<line x1="173.4" y1="154.3448" x2="173.4" y2="150.6" stroke="#000" stroke-width="1"/><line x1="171.5" y1="150.6" x2="175.3" y2="150.6" stroke="#000" stroke-width="1"/>
<g transform="translate(55.20,229.22) scale(0.95)"><rect x="-2" y="-2" width="4" height="4" fill="#000"/></g>
<g transform="translate(94.40,171.70) scale(0.95)"><rect x="-2" y="-2" width="4" height="4" fill="#000"/></g>
<g transform="translate(133.90,155.85) scale(0.95)"><rect x="-2" y="-2" width="4" height="4" fill="#000"/></g>
<g transform="translate(173.40,154.34) scale(0.95)"><rect x="-2" y="-2" width="4" height="4" fill="#000"/></g>
<g transform="translate(55.20,235.82) scale(0.9)"><path d="M-2,-2 L2,2 M2,-2 L-2,2" stroke="#000" stroke-width="1.1"/></g>
<g transform="translate(94.40,176.41) scale(0.9)"><path d="M-2,-2 L2,2 M2,-2 L-2,2" stroke="#000" stroke-width="1.1"/></g>
<g transform="translate(133.90,164.34) scale(0.9)"><path d="M-2,-2 L2,2 M2,-2 L-2,2" stroke="#000" stroke-width="1.1"/></g>
<g transform="translate(173.40,164.34) scale(0.9)"><path d="M-2,-2 L2,2 M2,-2 L-2,2" stroke="#000" stroke-width="1.1"/></g>
<g transform="translate(55.20,232.99) scale(0.9)"><path d="M0,-2.5 L2.5,1.8 L-2.5,1.8 Z" fill="#000"/></g>
<g transform="translate(94.40,180.18) scale(0.9)"><path d="M0,-2.5 L2.5,1.8 L-2.5,1.8 Z" fill="#000"/></g>
<g transform="translate(133.90,172.64) scale(0.9)"><path d="M0,-2.5 L2.5,1.8 L-2.5,1.8 Z" fill="#000"/></g>
<g transform="translate(173.40,169.81) scale(0.9)"><path d="M0,-2.5 L2.5,1.8 L-2.5,1.8 Z" fill="#000"/></g>
<line x1="94.4" y1="209.416" x2="94.4" y2="205.4" stroke="#000" stroke-width="1"/><line x1="92.5" y1="205.4" x2="96.30000000000001" y2="205.4" stroke="#000" stroke-width="1"/>
<line x1="133.9" y1="185.84099999999998" x2="133.9" y2="179.6" stroke="#000" stroke-width="1"/><line x1="132.0" y1="179.6" x2="135.8" y2="179.6" stroke="#000" stroke-width="1"/>
<line x1="173.4" y1="187.53839999999997" x2="173.4" y2="181.4" stroke="#000" stroke-width="1"/><line x1="171.5" y1="181.4" x2="175.3" y2="181.4" stroke="#000" stroke-width="1"/>
<g transform="translate(55.20,258.45) scale(0.8)"><path d="M0,-2.6 L2.6,0 L0,2.6 L-2.6,0 Z" fill="#000"/></g>
<g transform="translate(94.40,209.42) scale(0.8)"><path d="M0,-2.6 L2.6,0 L0,2.6 L-2.6,0 Z" fill="#000"/></g>
<g transform="translate(133.90,185.84) scale(0.8)"><path d="M0,-2.6 L2.6,0 L0,2.6 L-2.6,0 Z" fill="#000"/></g>
<g transform="translate(173.40,187.54) scale(0.8)"><path d="M0,-2.6 L2.6,0 L0,2.6 L-2.6,0 Z" fill="#000"/></g>
<line x1="94.4" y1="236.19719999999998" x2="94.4" y2="228.7" stroke="#000" stroke-width="1"/><line x1="92.5" y1="228.7" x2="96.30000000000001" y2="228.7" stroke="#000" stroke-width="1"/>
<line x1="173.4" y1="206.587" x2="173.4" y2="201.1" stroke="#000" stroke-width="1"/><line x1="171.5" y1="201.1" x2="175.3" y2="201.1" stroke="#000" stroke-width="1"/>
<g transform="translate(55.20,272.60) scale(0.9)"><rect x="-1.8" y="-1.8" width="3.6" height="3.6" fill="#fff" stroke="#000" stroke-width="0.9"/></g>
<g transform="translate(94.40,236.20) scale(0.9)"><rect x="-1.8" y="-1.8" width="3.6" height="3.6" fill="#fff" stroke="#000" stroke-width="0.9"/></g>
<g transform="translate(133.90,216.02) scale(0.9)"><rect x="-1.8" y="-1.8" width="3.6" height="3.6" fill="#fff" stroke="#000" stroke-width="0.9"/></g>
<g transform="translate(173.40,206.59) scale(0.9)"><rect x="-1.8" y="-1.8" width="3.6" height="3.6" fill="#fff" stroke="#000" stroke-width="0.9"/></g>
<text transform="translate(10.6,264.8) rotate(-90)" font-size="12.2" font-weight="bold" textLength="100" lengthAdjust="spacingAndGlyphs">Specific lysis (%)</text>
<line x1="294.5" y1="141.51999999999998" x2="294.5" y2="292.4" stroke="#aaa" stroke-width="1"/>
<line x1="294.5" y1="292.4" x2="452.7" y2="292.4" stroke="#aaa" stroke-width="1"/>
<line x1="292.0" y1="292.4" x2="294.5" y2="292.4" stroke="#aaa" stroke-width="1"/>
<text x="289.6" y="295.84999999999997" font-size="9.6" text-anchor="end" fill="#000" textLength="4.9" lengthAdjust="spacingAndGlyphs" stroke="#000" stroke-width="0.15">0</text>
<line x1="292.0" y1="273.53999999999996" x2="294.5" y2="273.53999999999996" stroke="#aaa" stroke-width="1"/>
<text x="289.6" y="276.98999999999995" font-size="9.6" text-anchor="end" fill="#000" textLength="9.0" lengthAdjust="spacingAndGlyphs" stroke="#000" stroke-width="0.15">10</text>
<line x1="292.0" y1="254.67999999999998" x2="294.5" y2="254.67999999999998" stroke="#aaa" stroke-width="1"/>
<text x="289.6" y="258.13" font-size="9.6" text-anchor="end" fill="#000" textLength="9.0" lengthAdjust="spacingAndGlyphs" stroke="#000" stroke-width="0.15">20</text>
<line x1="292.0" y1="235.82" x2="294.5" y2="235.82" stroke="#aaa" stroke-width="1"/>
<text x="289.6" y="239.26999999999998" font-size="9.6" text-anchor="end" fill="#000" textLength="9.0" lengthAdjust="spacingAndGlyphs" stroke="#000" stroke-width="0.15">30</text>
<line x1="292.0" y1="216.95999999999998" x2="294.5" y2="216.95999999999998" stroke="#aaa" stroke-width="1"/>
<text x="289.6" y="220.40999999999997" font-size="9.6" text-anchor="end" fill="#000" textLength="9.0" lengthAdjust="spacingAndGlyphs" stroke="#000" stroke-width="0.15">40</text>
<line x1="292.0" y1="198.09999999999997" x2="294.5" y2="198.09999999999997" stroke="#aaa" stroke-width="1"/>
<text x="289.6" y="201.54999999999995" font-size="9.6" text-anchor="end" fill="#000" textLength="9.0" lengthAdjust="spacingAndGlyphs" stroke="#000" stroke-width="0.15">50</text>
<line x1="292.0" y1="179.23999999999998" x2="294.5" y2="179.23999999999998" stroke="#aaa" stroke-width="1"/>
<text x="289.6" y="182.68999999999997" font-size="9.6" text-anchor="end" fill="#000" textLength="9.0" lengthAdjust="spacingAndGlyphs" stroke="#000" stroke-width="0.15">60</text>
<line x1="292.0" y1="160.38" x2="294.5" y2="160.38" stroke="#aaa" stroke-width="1"/>
<text x="289.6" y="163.82999999999998" font-size="9.6" text-anchor="end" fill="#000" textLength="9.0" lengthAdjust="spacingAndGlyphs" stroke="#000" stroke-width="0.15">70</text>
<line x1="292.0" y1="141.51999999999998" x2="294.5" y2="141.51999999999998" stroke="#aaa" stroke-width="1"/>
<text x="289.6" y="144.96999999999997" font-size="9.6" text-anchor="end" fill="#000" textLength="9.0" lengthAdjust="spacingAndGlyphs" stroke="#000" stroke-width="0.15">80</text>
<text x="315.6" y="306.4" font-size="9.8" font-weight="bold" text-anchor="middle" fill="#000" textLength="13.2" lengthAdjust="spacingAndGlyphs" >2:1</text>
<text x="355.7" y="306.4" font-size="9.8" font-weight="bold" text-anchor="middle" fill="#000" textLength="13.2" lengthAdjust="spacingAndGlyphs" >7:1</text>
<text x="390.85" y="306.4" font-size="9.8" font-weight="bold" text-anchor="middle" fill="#000" textLength="18.5" lengthAdjust="spacingAndGlyphs" >14:1</text>
<text x="431.25" y="306.4" font-size="9.8" font-weight="bold" text-anchor="middle" fill="#000" textLength="18.5" lengthAdjust="spacingAndGlyphs" >28:1</text>
<text x="363.5" y="325.6" font-size="10" font-weight="bold" text-anchor="start" fill="#000" textLength="36.3" lengthAdjust="spacingAndGlyphs" >E/T ratio</text>
<path d="M314.30,259.39 L353.50,191.50 L393.10,163.21 L433.00,164.53" fill="none" stroke="#000" stroke-width="1"/>
<path d="M314.30,223.94 L353.50,168.30 L393.10,160.19 L433.00,161.51" fill="none" stroke="#000" stroke-width="1"/>
<path d="M314.30,240.53 L353.50,177.54 L393.10,173.02 L433.00,167.55" fill="none" stroke="#000" stroke-width="1"/>
<path d="M314.30,273.35 L353.50,236.95 L393.10,216.02 L433.00,206.59" fill="none" stroke="#000" stroke-width="1"/>
<line x1="353.5" y1="191.49899999999997" x2="353.5" y2="187.4" stroke="#000" stroke-width="1"/><line x1="351.6" y1="187.4" x2="355.4" y2="187.4" stroke="#000" stroke-width="1"/>
<g transform="translate(314.30,259.39) scale(0.8)"><rect x="-2.5" y="-0.8" width="5" height="1.6" fill="#000"/></g>
<g transform="translate(353.50,191.50) scale(0.8)"><rect x="-2.5" y="-0.8" width="5" height="1.6" fill="#000"/></g>
<g transform="translate(393.10,163.21) scale(0.8)"><rect x="-2.5" y="-0.8" width="5" height="1.6" fill="#000"/></g>
<g transform="translate(433.00,164.53) scale(0.8)"><rect x="-2.5" y="-0.8" width="5" height="1.6" fill="#000"/></g>
<line x1="314.3" y1="223.9382" x2="314.3" y2="221" stroke="#000" stroke-width="1"/><line x1="312.40000000000003" y1="221" x2="316.2" y2="221" stroke="#000" stroke-width="1"/>
<line x1="353.5" y1="168.3012" x2="353.5" y2="163.6" stroke="#000" stroke-width="1"/><line x1="351.6" y1="163.6" x2="355.4" y2="163.6" stroke="#000" stroke-width="1"/>
<line x1="433" y1="161.5116" x2="433" y2="155.5" stroke="#000" stroke-width="1"/><line x1="431.1" y1="155.5" x2="434.9" y2="155.5" stroke="#000" stroke-width="1"/>
<g transform="translate(314.30,223.94) scale(0.8)"><path d="M0,-2.6 L2.6,0 L0,2.6 L-2.6,0 Z" fill="#000"/></g>
<g transform="translate(353.50,168.30) scale(0.8)"><path d="M0,-2.6 L2.6,0 L0,2.6 L-2.6,0 Z" fill="#000"/></g>
<g transform="translate(393.10,160.19) scale(0.8)"><path d="M0,-2.6 L2.6,0 L0,2.6 L-2.6,0 Z" fill="#000"/></g>
<g transform="translate(433.00,161.51) scale(0.8)"><path d="M0,-2.6 L2.6,0 L0,2.6 L-2.6,0 Z" fill="#000"/></g>
<line x1="314.3" y1="240.53499999999997" x2="314.3" y2="232.5" stroke="#000" stroke-width="1"/><line x1="312.40000000000003" y1="232.5" x2="316.2" y2="232.5" stroke="#000" stroke-width="1"/>
<line x1="393.1" y1="173.01619999999997" x2="393.1" y2="170.6" stroke="#000" stroke-width="1"/><line x1="391.20000000000005" y1="170.6" x2="395.0" y2="170.6" stroke="#000" stroke-width="1"/>
<g transform="translate(314.30,240.53) scale(0.85)"><path d="M0,-2.3 L2.3,0 L0,2.3 L-2.3,0 Z" fill="#fff" stroke="#000" stroke-width="0.9"/></g>
<g transform="translate(353.50,177.54) scale(0.85)"><path d="M0,-2.3 L2.3,0 L0,2.3 L-2.3,0 Z" fill="#fff" stroke="#000" stroke-width="0.9"/></g>
<g transform="translate(393.10,173.02) scale(0.85)"><path d="M0,-2.3 L2.3,0 L0,2.3 L-2.3,0 Z" fill="#fff" stroke="#000" stroke-width="0.9"/></g>
<g transform="translate(433.00,167.55) scale(0.85)"><path d="M0,-2.3 L2.3,0 L0,2.3 L-2.3,0 Z" fill="#fff" stroke="#000" stroke-width="0.9"/></g>
<line x1="314.3" y1="273.35139999999996" x2="314.3" y2="269.8" stroke="#000" stroke-width="1"/><line x1="312.40000000000003" y1="269.8" x2="316.2" y2="269.8" stroke="#000" stroke-width="1"/>
<line x1="353.5" y1="236.95159999999998" x2="353.5" y2="229" stroke="#000" stroke-width="1"/><line x1="351.6" y1="229" x2="355.4" y2="229" stroke="#000" stroke-width="1"/>
<line x1="433" y1="206.587" x2="433" y2="201.5" stroke="#000" stroke-width="1"/><line x1="431.1" y1="201.5" x2="434.9" y2="201.5" stroke="#000" stroke-width="1"/>
<g transform="translate(314.30,273.35) scale(0.9)"><rect x="-1.8" y="-1.8" width="3.6" height="3.6" fill="#fff" stroke="#000" stroke-width="0.9"/></g>
<g transform="translate(353.50,236.95) scale(0.9)"><rect x="-1.8" y="-1.8" width="3.6" height="3.6" fill="#fff" stroke="#000" stroke-width="0.9"/></g>
<g transform="translate(393.10,216.02) scale(0.9)"><rect x="-1.8" y="-1.8" width="3.6" height="3.6" fill="#fff" stroke="#000" stroke-width="0.9"/></g>
<g transform="translate(433.00,206.59) scale(0.9)"><rect x="-1.8" y="-1.8" width="3.6" height="3.6" fill="#fff" stroke="#000" stroke-width="0.9"/></g>
<line x1="182.4" y1="137.4" x2="196.20000000000002" y2="137.4" stroke="#000" stroke-width="0.9"/>
<g transform="translate(189.30,137.40) scale(0.8)"><rect x="-2.5" y="-0.8" width="5" height="1.6" fill="#000"/></g>
<text x="198.3" y="140.4" font-size="8.8" font-weight="bold" text-anchor="start" fill="#000" textLength="18.0" lengthAdjust="spacingAndGlyphs" >K562</text>
<line x1="182.4" y1="168.7" x2="196.20000000000002" y2="168.7" stroke="#000" stroke-width="0.9"/>
<g transform="translate(189.30,168.70) scale(0.8)"><rect x="-2" y="-2" width="4" height="4" fill="#000"/></g>
<text x="198.3" y="171.7" font-size="8.8" font-weight="bold" text-anchor="start" fill="#000" textLength="36.4" lengthAdjust="spacingAndGlyphs" >100% HLA</text>
<text x="198.3" y="183.2" font-size="8.8" font-weight="bold" text-anchor="start" fill="#000" textLength="27.6" lengthAdjust="spacingAndGlyphs" >blocked</text>
<line x1="182.4" y1="200.1" x2="196.20000000000002" y2="200.1" stroke="#000" stroke-width="0.9"/>
<g transform="translate(189.30,200.10) scale(0.8)"><path d="M-2,-2 L2,2 M2,-2 L-2,2" stroke="#000" stroke-width="1.1"/></g>
<text x="198.3" y="203.1" font-size="8.8" font-weight="bold" text-anchor="start" fill="#000" textLength="32.5" lengthAdjust="spacingAndGlyphs" >83% HLA</text>
<text x="198.3" y="214.6" font-size="8.8" font-weight="bold" text-anchor="start" fill="#000" textLength="27.6" lengthAdjust="spacingAndGlyphs" >blocked</text>
<line x1="182.4" y1="230.6" x2="196.20000000000002" y2="230.6" stroke="#000" stroke-width="0.9"/>
<g transform="translate(189.30,230.60) scale(0.8)"><path d="M0,-2.5 L2.5,1.8 L-2.5,1.8 Z" fill="#000"/></g>
<text x="198.3" y="233.6" font-size="8.8" font-weight="bold" text-anchor="start" fill="#000" textLength="32.5" lengthAdjust="spacingAndGlyphs" >65% HLA</text>
<text x="198.3" y="245.1" font-size="8.8" font-weight="bold" text-anchor="start" fill="#000" textLength="27.6" lengthAdjust="spacingAndGlyphs" >blocked</text>
<line x1="182.4" y1="262.1" x2="196.20000000000002" y2="262.1" stroke="#000" stroke-width="0.9"/>
<g transform="translate(189.30,262.10) scale(0.8)"><path d="M0,-2.6 L2.6,0 L0,2.6 L-2.6,0 Z" fill="#000"/></g>
<text x="198.3" y="265.1" font-size="8.8" font-weight="bold" text-anchor="start" fill="#000" textLength="32.5" lengthAdjust="spacingAndGlyphs" >42% HLA</text>
<text x="198.3" y="276.6" font-size="8.8" font-weight="bold" text-anchor="start" fill="#000" textLength="27.6" lengthAdjust="spacingAndGlyphs" >blocked</text>
<line x1="182.4" y1="292.6" x2="196.20000000000002" y2="292.6" stroke="#000" stroke-width="0.9"/>
<g transform="translate(189.30,292.60) scale(0.8)"><rect x="-1.8" y="-1.8" width="3.6" height="3.6" fill="#fff" stroke="#000" stroke-width="0.9"/></g>
<text x="198.3" y="295.6" font-size="8.8" font-weight="bold" text-anchor="start" fill="#000" textLength="58.2" lengthAdjust="spacingAndGlyphs" >0% HLA blocked</text>
<line x1="438.6" y1="138.7" x2="451.6" y2="138.7" stroke="#000" stroke-width="0.9"/>
<g transform="translate(445.10,138.70) scale(0.8)"><rect x="-2.5" y="-0.8" width="5" height="1.6" fill="#000"/></g>
<text x="454.3" y="141.7" font-size="8.8" font-weight="bold" text-anchor="start" fill="#000" textLength="18.0" lengthAdjust="spacingAndGlyphs" >K562</text>
<line x1="438.6" y1="184.8" x2="451.6" y2="184.8" stroke="#000" stroke-width="0.9"/>
<g transform="translate(445.10,184.80) scale(0.8)"><path d="M0,-2.6 L2.6,0 L0,2.6 L-2.6,0 Z" fill="#000"/></g>
<text x="454.5" y="187.8" font-size="8.8" font-weight="bold" text-anchor="start" fill="#000" textLength="41.5" lengthAdjust="spacingAndGlyphs" >Bortezomib</text>
<text x="454.5" y="198.4" font-size="8.8" font-weight="bold" text-anchor="start" fill="#000" textLength="61.5" lengthAdjust="spacingAndGlyphs" >treated and 100%</text>
<text x="454.5" y="209.0" font-size="8.8" font-weight="bold" text-anchor="start" fill="#000" textLength="44.5" lengthAdjust="spacingAndGlyphs" >HLA blocked</text>
<line x1="438.6" y1="230.0" x2="451.6" y2="230.0" stroke="#000" stroke-width="0.9"/>
<g transform="translate(445.10,230.00) scale(0.8)"><path d="M0,-2.3 L2.3,0 L0,2.3 L-2.3,0 Z" fill="#fff" stroke="#000" stroke-width="0.9"/></g>
<text x="454.5" y="233.0" font-size="8.8" font-weight="bold" text-anchor="start" fill="#000" textLength="40.8" lengthAdjust="spacingAndGlyphs" >Bortezomib</text>
<text x="454.5" y="243.6" font-size="8.8" font-weight="bold" text-anchor="start" fill="#000" textLength="59.5" lengthAdjust="spacingAndGlyphs" >treated + isotype</text>
<text x="454.5" y="254.2" font-size="8.8" font-weight="bold" text-anchor="start" fill="#000" textLength="36.3" lengthAdjust="spacingAndGlyphs" >control ab</text>
<line x1="438.6" y1="273.5" x2="451.6" y2="273.5" stroke="#000" stroke-width="0.9"/>
<g transform="translate(445.10,273.50) scale(0.8)"><rect x="-1.8" y="-1.8" width="3.6" height="3.6" fill="#fff" stroke="#000" stroke-width="0.9"/></g>
<text x="454.5" y="276.5" font-size="8.8" font-weight="bold" text-anchor="start" fill="#000" textLength="57.5" lengthAdjust="spacingAndGlyphs" >0% HLA blocked</text>
</svg>
</body></html>
